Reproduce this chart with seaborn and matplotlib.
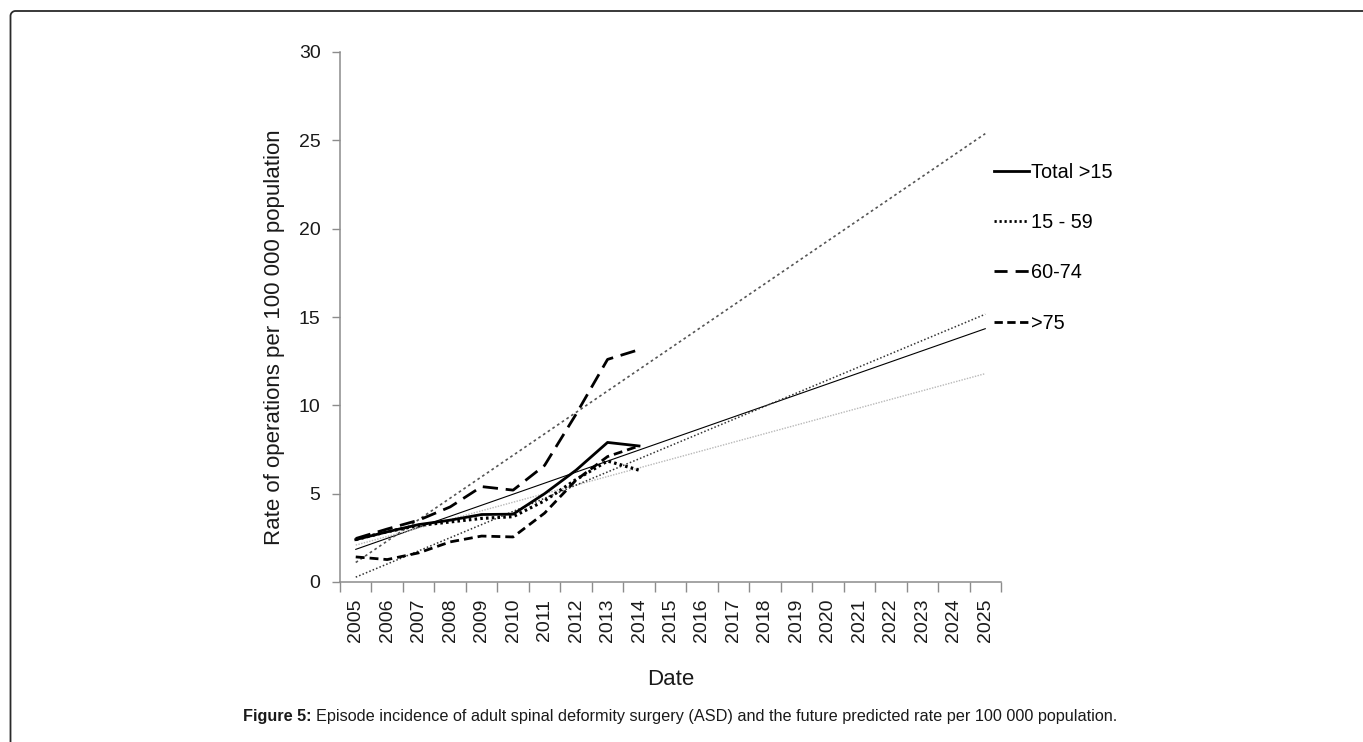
import numpy as np
import pandas as pd
import matplotlib
matplotlib.use("Agg")
import matplotlib.pyplot as plt
from matplotlib.lines import Line2D
from matplotlib.ticker import FixedLocator, NullFormatter
import seaborn as sns

# Observed rates per 100 000 population, 2005-2014
years_obs = [2005, 2006, 2007, 2008, 2009, 2010, 2011, 2012, 2013, 2014]
total_15 = [2.40, 2.84, 3.25, 3.50, 3.82, 3.84, 5.00, 6.33, 7.90, 7.70]
age_15_59 = [2.40, 2.85, 3.20, 3.40, 3.60, 3.70, 4.60, 5.80, 6.85, 6.33]
age_60_74 = [2.46, 3.00, 3.50, 4.25, 5.40, 5.20, 6.60, 9.50, 12.60, 13.15]
age_75 = [1.42, 1.27, 1.65, 2.27, 2.60, 2.55, 3.90, 5.77, 7.10, 7.70]

# Projection horizon
years_all = list(range(2005, 2026))
year_labels = [str(y) for y in years_all]

series_labels = ["Total >15", "15 - 59", "60-74", ">75"]

plt.rcParams["font.family"] = ["Liberation Sans", "DejaVu Sans"]

W, H = 1363, 742
fig = plt.figure(figsize=(W / 100, H / 100), dpi=100)
ax = fig.add_axes([340 / W, 1 - 582 / H, 661 / W, 530 / H])

obs = pd.DataFrame({"year": years_obs, "Total >15": total_15, "15 - 59": age_15_59,
                    "60-74": age_60_74, ">75": age_75})

main_styles = {
    "Total >15": dict(color="black", linestyle="-", linewidth=2.0),
    "15 - 59": dict(color="black", linestyle=(0, (0.8, 1.0)), linewidth=2.3),
    "60-74": dict(color="black", linestyle=(0, (5.5, 2.8)), linewidth=2.0),
    ">75": dict(color="black", linestyle=(0, (3.2, 1.8)), linewidth=2.0),
}
trend_styles = {
    "Total >15": dict(color="black", linestyle="-", linewidth=0.8),
    "15 - 59": dict(color="#b8b8b8", linestyle=(0, (1.0, 1.0)), linewidth=1.0),
    "60-74": dict(color="#555555", linestyle=(0, (1.6, 1.8)), linewidth=1.2),
    ">75": dict(color="#333333", linestyle=(0, (1.0, 1.4)), linewidth=1.1),
}

# Linear trend lines fitted to the observed years, extended to 2025
x_all = np.array(years_all, dtype=float)
for name in series_labels:
    slope, intercept = np.polyfit(obs["year"], obs[name], 1)
    trend = pd.DataFrame({"year": x_all, "rate": slope * x_all + intercept})
    sns.lineplot(data=trend, x="year", y="rate", ax=ax, **trend_styles[name])

for name in series_labels:
    sns.lineplot(data=obs, x="year", y=name, ax=ax, **main_styles[name])

ax.set_xlim(2004.5, 2025.5)
ax.set_ylim(0, 30)
ax.set_yticks([0, 5, 10, 15, 20, 25, 30])
ax.set_xticks(years_all)
ax.set_xticklabels(year_labels, rotation=90)
ax.xaxis.set_minor_locator(FixedLocator(np.arange(2004.5, 2026, 1.0)))
ax.xaxis.set_minor_formatter(NullFormatter())
ax.tick_params(axis="x", which="major", length=0, pad=12, labelsize=14, labelcolor="#1a1a1a")
ax.tick_params(axis="x", which="minor", length=7, width=1, color="#8c8c8c", direction="out")
ax.tick_params(axis="y", length=6, width=1, color="#8c8c8c", pad=8, labelsize=14,
               labelcolor="#1a1a1a")

for s in ["top", "right"]:
    ax.spines[s].set_visible(False)
for s in ["left", "bottom"]:
    ax.spines[s].set_color("#8c8c8c")
    ax.spines[s].set_linewidth(1.1)

ax.set_xlabel("Date", fontsize=16, color="#1a1a1a", labelpad=19)
ax.set_ylabel("Rate of operations per 100 000 population", fontsize=16,
              color="#1a1a1a", labelpad=10, y=0.462)
ax.set_facecolor("white")

handles = [
    Line2D([], [], color="black", linestyle="-", linewidth=2.0),
    Line2D([], [], color="black", linestyle=(0, (0.8, 1.0)), linewidth=2.0),
    Line2D([], [], color="black", linestyle=(0, (4.7, 2.9)), linewidth=2.0),
    Line2D([], [], color="black", linestyle=(0, (3.0, 1.6)), linewidth=2.0),
]
ax.legend(handles, series_labels, loc="upper left", bbox_to_anchor=(994 / W, 1 - 163 / H),
          bbox_transform=fig.transFigure, frameon=False, fontsize=14.3,
          handlelength=1.75, handletextpad=0.1, labelspacing=1.57, borderaxespad=0,
          borderpad=0)

# Caption below the chart: bold figure number followed by regular text
fig.canvas.draw()
renderer = fig.canvas.get_renderer()
cap_y = 1 - 717 / H
t1 = fig.text(243 / W, cap_y, "Figure 5:", fontsize=11.7, fontweight="bold",
              va="center", ha="left", color="#1a1a1a")
bb = t1.get_window_extent(renderer)
fig.text((bb.x1 + 4) / W, cap_y,
         "Episode incidence of adult spinal deformity surgery (ASD) and the future "
         "predicted rate per 100 000 population.",
         fontsize=11.7, va="center", ha="left", color="#1a1a1a")

# Page frame: top and left edges with a rounded corner
r = 5.0
frame_x, frame_y = 10.5, 11.0
theta = np.linspace(np.pi, np.pi / 2, 20)
cx, cy = frame_x + r, frame_y + r
arc_x = cx + r * np.cos(theta)
arc_y = cy - r * np.sin(theta)
fx = np.concatenate([[frame_x], arc_x, [W + 5]])
fy = np.concatenate([[H + 5], arc_y, [frame_y]])
fig.add_artist(Line2D(fx / W, 1 - fy / H, transform=fig.transFigure, color="#2a2a2a",
                      linewidth=1.3))

fig.savefig("out.png", dpi=100, facecolor="white")
